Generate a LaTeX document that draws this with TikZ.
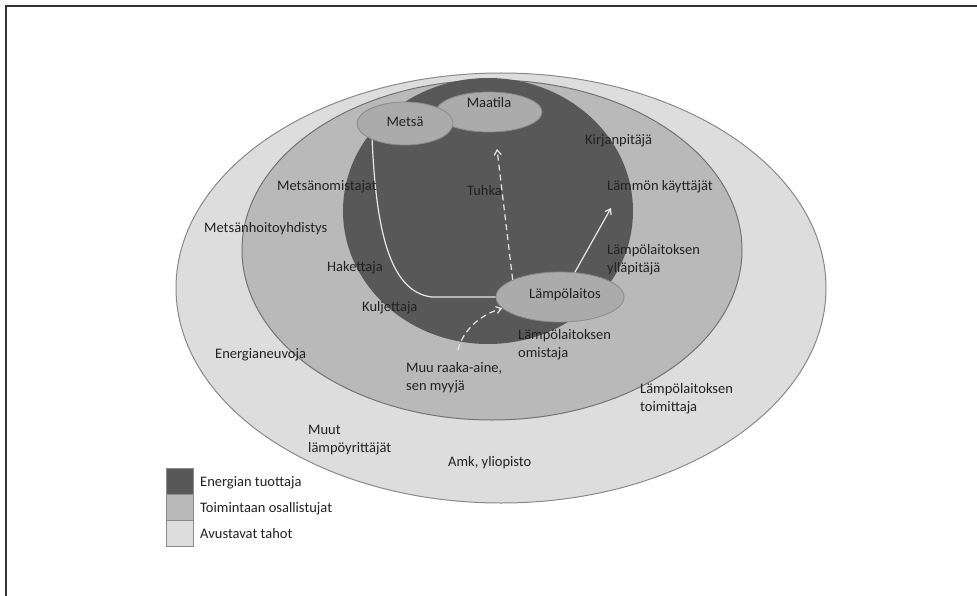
\documentclass[tikz,border=0pt]{standalone}
\usepackage{fontspec}
\setmainfont{Carlito}
\usetikzlibrary{shapes.geometric,arrows.meta}
\definecolor{cOuter}{HTML}{DDDDDD}
\definecolor{cMid}{HTML}{B9B9B9}
\definecolor{cDark}{HTML}{585858}
\definecolor{cSmall}{HTML}{ABABAB}
\definecolor{cEdge}{HTML}{8A8A8A}
\definecolor{cFlow}{HTML}{E6E6E6}
\definecolor{cText}{HTML}{222222}
\begin{document}
\begin{tikzpicture}[x=1pt,y=-1pt,
  every node/.style={font=\fontsize{14.5}{18}\selectfont, text=cText},
  zone/.style={ellipse, inner sep=0pt, draw=cEdge, line width=1pt},
  blob/.style={ellipse, inner sep=0pt, draw=cEdge, line width=0.8pt, fill=cSmall},
  lbl/.style={inner sep=0pt, anchor=west, align=left},
  flow/.style={draw=cFlow, line width=1.2pt},
  flowtip/.style={-{Straight Barb[length=5pt,width=7pt]}},
  legbox/.style={rectangle, draw=cEdge, line width=0.8pt, minimum width=27pt, minimum height=26pt, inner sep=0pt},
  frameline/.style={draw=black!80, line width=1.5pt}
]
\useasboundingbox (0,0) rectangle (977,596);
\fill[white] (0,0) rectangle (977,596);
\draw[frameline] (6,596) -- (6,6) -- (977,6);

% zones
\node[zone, fill=cOuter, minimum width=650pt, minimum height=430pt] (outer) at (501,288) {};
\node[zone, fill=cMid, draw=black!55, minimum width=500pt, minimum height=340pt] (middle) at (492,250) {};
\node[ellipse, inner sep=0pt, fill=cDark, minimum width=290pt, minimum height=266pt] (prod) at (488,211) {};

% small ellipses
\node[blob, minimum width=106pt, minimum height=40pt] (maatila) at (489,112) {};
\node[blob, minimum width=96pt, minimum height=43pt] (metsa) at (405,123.5) {};
\node[blob, minimum width=128pt, minimum height=50pt] (lampo) at (560,297) {};

% free ends
\coordinate (tuhkatip) at (497,149);
\coordinate (kayttip) at (611,208);
\coordinate (muustart) at (458,350);

% connectors
\draw[flow] (metsa.206) .. controls (376,225) and (388,292) .. (432,297) -- (lampo.west);
\draw[flow, flowtip, dash pattern=on 6pt off 4pt] (lampo.160) -- (tuhkatip);
\draw[flow, flowtip] (lampo.59) -- (kayttip);
\draw[flow, flowtip, dash pattern=on 6pt off 4pt] (muustart) .. controls (463,330) and (480,315) .. (lampo.191);

% labels in ellipses
\node[inner sep=0pt] (tmaatila) at (489,103) {Maatila};
\node[inner sep=0pt] (tmetsa) at (405,122) {Metsä};
\node[inner sep=0pt] (tlampo) at (565,295) {Lämpölaitos};

% other labels
\node[lbl] (kirjan) at (585,141) {Kirjanpitäjä};
\node[lbl] (tuhka) at (467,191) {Tuhka};
\node[lbl] (kaytt) at (607,187) {Lämmön käyttäjät};
\node[lbl] (metsom) at (277,187) {Metsänomistajat};
\node[lbl] (metshoito) at (204,229) {Metsänhoitoyhdistys};
\node[lbl] (hakett) at (327,268) {Hakettaja};
\node[lbl] (kulj) at (362,308) {Kuljettaja};
\node[lbl] (yllap) at (607,260) {Lämpölaitoksen\\ylläpitäjä};
\node[lbl] (omist) at (518,345) {Lämpölaitoksen\\omistaja};
\node[lbl] (muu) at (406,378) {Muu raaka-aine,\\sen myyjä};
\node[lbl] (eneuv) at (215,355) {Energianeuvoja};
\node[lbl] (toim) at (640,399) {Lämpölaitoksen\\toimittaja};
\node[lbl] (muut) at (308,440) {Muut\\lämpöyrittäjät};
\node[lbl] (amk) at (448,463) {Amk, yliopisto};

% legend
\node[legbox, fill=cDark] (leg1) at (179.5,481) {};
\node[legbox, fill=cMid] (leg2) at (179.5,507) {};
\node[legbox, fill=cOuter] (leg3) at (179.5,533) {};
\node[lbl] (legt1) at (200,483) {Energian tuottaja};
\node[lbl] (legt2) at (200,509) {Toimintaan osallistujat};
\node[lbl] (legt3) at (200,534) {Avustavat tahot};
\end{tikzpicture}
\end{document}
